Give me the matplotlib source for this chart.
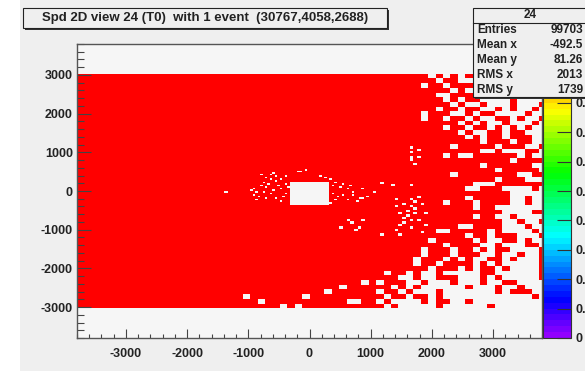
import numpy as np
import matplotlib
matplotlib.use('Agg')
import matplotlib.pyplot as plt
from matplotlib.colors import ListedColormap, hsv_to_rgb
from matplotlib.patches import Rectangle
from matplotlib.ticker import MultipleLocator

plt.rcParams['font.family'] = ['Liberation Sans', 'DejaVu Sans']
plt.rcParams['font.weight'] = 'bold'
plt.rcParams['axes.unicode_minus'] = False

title = 'Spd 2D view 24 (T0)  with 1 event  (30767,4058,2688)'
stats_name = '24'
stats_labels = ['Entries', 'Mean x', 'Mean y', 'RMS x', 'RMS y']
stats_values = ['99703', '-492.5', '81.26', '2013', '1739']

x_ticks = [-3000, -2000, -1000, 0, 1000, 2000, 3000]
y_ticks = [-3000, -2000, -1000, 0, 1000, 2000, 3000]
# colour scale runs 0..1; 0.9 and 1 sit under the statistics box
z_ticks = [0, 0.1, 0.2, 0.3, 0.4, 0.5, 0.6, 0.7, 0.8]
z_labels = ['0', '0.1', '0.2', '0.3', '0.4', '0.5', '0.6', '0.7', '0.8']

# outer cells (121.2 mm), rows from top to bottom, columns 40..63
# ('#' = hit, '.' = empty)
outer_right = [
    "####" "####.#.#.#" "#.#..#...#",
    "####" "#####.##.." ".#..#.#...",
    "####" "###.##.###" "#..#...#..",
    "####" "#######.#." "..#.#..#.#",
    "####" "#####..###" ".#...#..#.",
    "####" "######.#.#" "#....#....",
    "####" "#######.#." ".#...#...#",
    "####" "#####.##.#" "#..#.#..#.",
    "####" "###.###..#" ".##....#..",
    "####" "###.##.##." "#..##.#..#",
    "####" "########.#" ".#..#...#.",
    "####" "######.##." "##.#.#.#..",
    "####" "########.#" "..##.##...",
    "####" "####" "#####." "#.##.###..",
    "####" "####" "######" "#.###.##..",
    "####" "####" "###.##" "###.###..#",
    "####" "####" "######" "#..#...##.",
    "####" "####" "##.#.." "######.#..",
    "####" "####" "######" "#####.####",
    "####" "####" "######" "#.######..",
    "####" "####" "######" "###.#####.",
    "####" "####" "###.##" "######..##",
    "####" "####" "######" "###.###...",
    "####" "####" "######" "...#######",
    "####" "####" "#####." ".###....#.",
    "####" "####" "######" "#####.....",
    "####" "####" "#####." "#####..#..",
    "####" "####" "##.###" ".####..#..",
    "####" "####" "######" ".##.......",
    "####" "####" "######" "####....##",
    "####" "####" "######" ".##..#....",
    "####" "####" "######" "####..#..#",
    "####" "####" "####.." "####...#..",
    "####" "####" "#..###" "##.#....#.",
    "####" "####" "#####." "##.###...#",
    "####" "####" ".#####" ".#..##.#..",
    "####" "####" "##.###" "#..#...##.",
    "####" "###.###.##.#.##....#",
    "####" "###.###.###..#..#..#",
    "####" "##.###.#.#..##.#...#",
    "####" "##.##.####.#.#.....#",
    "####" "####.###.#.##.#....#",
    "##.#" "#.#..#.....##......#",
    "####" "..#..###...#.#.....#",
    "#.##" "#..#...#...#..##....",
    "###." "#.#......#...#..#...",
    "#.##" ".#...#.......#.###..",
    "##.#" "#.##.#............#.",
    "#.#." "...#.##..#..........",
    "##.#" ".....#......#.......",
]
# a few empty outer cells left of column 40 (column, row from top)
outer_empty_col = [39, 38, 23, 25, 30, 34, 37, 36, 31, 28]
outer_empty_row = [44, 48, 47, 48, 49, 46, 48, 45, 47, 49]

# single empty cells in the inner / middle part (mm)
hole_x = [-645, -536, -454, -755, -890, -945, -700, -482, -809, -863, -373, -591,
          -428, -781, -183, -155, -46, 250, -1353,
          -600, -700, -560, -650, -780, -850, -760, -640, -560, -720, -900, -520,
          -400, -350, -380, -480, -620,
          335, 444, 552, 662, 389, 552, 716, 879, 444, 608, 825, 935, 1042, 1152,
          1369, 1642, 172, 400, 500, 620, 700, 770, 880, 480, 350,
          498, 608, 716, 825, 879, 771, 1206,
          1425, 1533, 1642, 1696, 1588, 1479, 1752, 1642, 1806, 1533, 1696, 1860,
          1806, 1420, 1500, 1860, 1450, 1600, 1750, 1880, 1550, 1700, 1900, 1460,
          1696, 1806, 1696, 1778, 1696, 1752, 1642]
hole_y = [415, 371, 285, 241, 70, 26, 112, 70, -148, -233, 200, 26,
          -148, 415, 500, 500, 545, 330, -60,
          450, 330, 250, 180, 150, -40, -20, -80, -180, -200, -120, 150,
          380, 100, -60, -250, 300,
          285, 241, 200, 156, -60, -104, -18, 70, -233, -233, -190, -148, -60, 241,
          156, 156, 371, 150, 100, 60, -120, -260, -200, -160, -300,
          -926, -752, -839, -926, -752, -1012, -1141,
          -233, -320, -233, -407, -493, -579, -579, -752, -752, -839, -926, -320,
          -148, -1000, -1100, -1050, -420, -650, -460, -600, -720, -250, -850, -900,
          1150, 1064, 978, 890, 804, 674, 890]

# beam hole (mm)
beam_hole_x = [-323.2, 323.2]
beam_hole_y = [-363.6, 242.4]

W, H = 585, 371
CANVAS = '#efefef'


def fx(x):
    return x / W


def fy(y):
    return 1 - y / H


# ROOT default palette: 50 colours, hue 280 -> 0
hues = [(280 - (i + 1) * 280 / 50) / 360 for i in range(50)]
cmap = ListedColormap(hsv_to_rgb([[h, 1, 1] for h in hues]))

# cell grids
OUT, MID, INN = 121.2, 60.6, 40.4
ox = -3878.4 + OUT * np.arange(65)
oy = -3030.0 + OUT * np.arange(51)
mx = -1939.2 + MID * np.arange(65)
my = -1454.4 + MID * np.arange(49)
ix = -969.6 + INN * np.arange(49)
iy = -727.2 + INN * np.arange(37)

outer = np.ones((50, 64))
for r, s in enumerate(outer_right):
    for k, ch in enumerate(s):
        if ch == '.':
            outer[r, 40 + k] = np.nan
for c, r in zip(outer_empty_col, outer_empty_row):
    outer[r, c] = np.nan
outer = outer[::-1]
middle = np.ones((48, 64))
inner = np.ones((36, 48))


def centres(e):
    return (e[:-1] + e[1:]) / 2


cx, cy = np.meshgrid(centres(ox), centres(oy))
outer[(abs(cx) < 1939.2) & (abs(cy) < 1454.4)] = np.nan
cx, cy = np.meshgrid(centres(mx), centres(my))
middle[(abs(cx) < 969.6) & (abs(cy) < 727.2)] = np.nan
cx, cy = np.meshgrid(centres(ix), centres(iy))
inner[(cx > beam_hole_x[0]) & (cx < beam_hole_x[1]) &
      (cy > beam_hole_y[0]) & (cy < beam_hole_y[1])] = np.nan

for x, y in zip(hole_x, hole_y):
    if abs(x) < 969.6 and abs(y) < 727.2:
        inner[int((y - iy[0]) // INN), int((x - ix[0]) // INN)] = np.nan
    elif abs(x) < 1939.2 and abs(y) < 1454.4:
        middle[int((y - my[0]) // MID), int((x - mx[0]) // MID)] = np.nan
    else:
        outer[int((y - oy[0]) // OUT), int((x - ox[0]) // OUT)] = np.nan

fig = plt.figure(figsize=(W / 100, H / 100), dpi=100, facecolor='white')
fig.add_artist(Rectangle((fx(20), 0), 1, 1, transform=fig.transFigure,
                         facecolor=CANVAS, edgecolor='none', zorder=-10))

ax = fig.add_axes([fx(77), fy(338), fx(465), 294 / H])
ax.set_facecolor('#f6f6f6')
for e_x, e_y, z in [(ox, oy, outer), (mx, my, middle), (ix, iy, inner)]:
    mesh = ax.pcolormesh(e_x, e_y, np.ma.masked_invalid(z), cmap=cmap,
                         vmin=0, vmax=1, edgecolors='none', antialiased=False)
ax.set_xlim(-3800, 3800)
ax.set_ylim(-3800, 3800)
ax.set_xticks(x_ticks)
ax.set_yticks(y_ticks)
ax.xaxis.set_minor_locator(MultipleLocator(200))
ax.yaxis.set_minor_locator(MultipleLocator(200))
ax.tick_params(axis='both', which='both', direction='in', colors='#444444',
               labelcolor='#222222', labelsize=9)
ax.tick_params(axis='x', which='major', length=6.3, width=0.8, pad=7)
ax.tick_params(axis='x', which='minor', length=3.2, width=0.8)
ax.tick_params(axis='y', which='major', length=10, width=0.8, pad=3)
ax.tick_params(axis='y', which='minor', length=5, width=0.8)
for sp in ax.spines.values():
    sp.set_color('#555555')
    sp.set_linewidth(1)

cax = fig.add_axes([fx(543), fy(338), fx(28), 294 / H])
cb = fig.colorbar(mesh, cax=cax, ticks=z_ticks)
cb.ax.set_yticklabels(z_labels)
cb.outline.set_edgecolor('#333333')
cb.outline.set_linewidth(0.8)
cax.tick_params(direction='in', length=10, width=0.8, pad=3, labelsize=9,
                colors='#333333', labelcolor='#222222')

# title box with shadow
fig.add_artist(Rectangle((fx(25), fy(30)), fx(364), 20 / H, transform=fig.transFigure,
                         facecolor='#333333', edgecolor='none', zorder=5))
fig.add_artist(Rectangle((fx(23), fy(28)), fx(364), 20 / H, transform=fig.transFigure,
                         facecolor=CANVAS, edgecolor='#222222', lw=0.8, zorder=6))
fig.text(fx(205), fy(18.5), title, ha='center', va='center', fontsize=9.5,
         fontweight='bold', color='#222222', zorder=7)

# statistics box
fig.add_artist(Rectangle((fx(475), fy(99)), fx(120), 89 / H, transform=fig.transFigure,
                         facecolor='#333333', edgecolor='none', zorder=5))
fig.add_artist(Rectangle((fx(473), fy(97)), fx(120), 89 / H, transform=fig.transFigure,
                         facecolor=CANVAS, edgecolor='#222222', lw=0.8, zorder=6))
fig.add_artist(plt.Line2D([fx(473), 1], [fy(23), fy(23)], transform=fig.transFigure,
                          color='#222222', lw=0.8, zorder=7))
fig.text(fx(530), fy(15.5), stats_name, ha='center', va='center', fontsize=8.5,
         fontweight='bold', color='#222222', zorder=7)
for i, (lab, val) in enumerate(zip(stats_labels, stats_values)):
    yy = 30.4 + i * 14.8
    fig.text(fx(477), fy(yy), lab, ha='left', va='center', fontsize=8.5,
             fontweight='bold', color='#222222', zorder=7)
    fig.text(fx(583), fy(yy), val, ha='right', va='center', fontsize=8.5,
             fontweight='bold', color='#222222', zorder=7)

fig.savefig('out.png', dpi=100, facecolor=fig.get_facecolor())
